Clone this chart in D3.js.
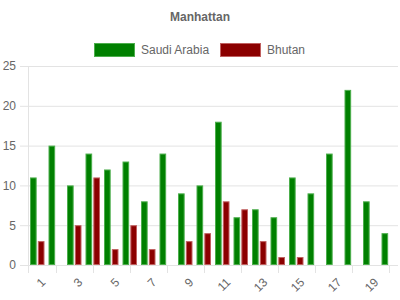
<!DOCTYPE html>
<html>
<head>
<meta charset="utf-8">
<script src="https://cdn.jsdelivr.net/npm/d3@7"></script>
<style>
  body { margin: 0; background: #fff; }
  svg { display: block; font-family: "Liberation Sans", Arial, sans-serif; }
</style>
</head>
<body>
<svg id="chart"></svg>
<script>
// Chart data
const categories = d3.range(1, 21).map(String);
const saudiArabia = [11, 15, 10, 14, 12, 13, 8, 14, 9, 10, 18, 6, 7, 6, 11, 9, 14, 22, 8, 4];
const bhutan = [3, 0, 5, 11, 2, 5, 2, 0, 3, 4, 8, 7, 3, 1, 1, 0, 0, 0, 0, 0];
const yTicks = [0, 5, 10, 15, 20, 25];

const seriesNames = ["Saudi Arabia", "Bhutan"];
const fills = ["#008000", "#8b0000"];
const strokes = ["#4cae4c", "#c06060"];

const width = 400, height = 300;
const margin = { top: 66, right: 2, bottom: 35, left: 28 };
const innerW = width - margin.left - margin.right;
const innerH = height - margin.top - margin.bottom;

const svg = d3.select("#chart").attr("width", width).attr("height", height);

// title
svg.append("text")
  .attr("x", width / 2).attr("y", 21)
  .attr("text-anchor", "middle")
  .attr("font-size", 12).attr("font-weight", "bold")
  .attr("fill", "#666")
  .text("Manhattan");

// legend
const legendItems = [
  { x: 94, name: seriesNames[0] },
  { x: 220, name: seriesNames[1] }
];
legendItems.forEach((d, i) => {
  svg.append("rect")
    .attr("x", d.x + 0.5).attr("y", 43.5)
    .attr("width", 40).attr("height", 13)
    .attr("fill", fills[i]).attr("stroke", strokes[i]);
  svg.append("text")
    .attr("x", d.x + 47).attr("y", 54)
    .attr("font-size", 12).attr("fill", "#666")
    .text(d.name);
});

const chart = svg.append("g")
  .attr("transform", `translate(${margin.left},${margin.top})`);

const x0 = d3.scaleBand().domain(categories).range([0, innerW]).paddingInner(0).paddingOuter(0);
const x1 = d3.scaleBand().domain([0, 1]).range([2, x0.bandwidth() - 2]).paddingInner(0.15);
const y = d3.scaleLinear().domain([0, 25]).range([innerH, 0]);

// horizontal grid + y labels
const yAxis = d3.axisLeft(y).tickValues(yTicks).tickSize(-innerW - 8).tickPadding(4);
const yG = chart.append("g").call(yAxis);
yG.select(".domain").remove();
yG.selectAll(".tick line")
  .attr("x1", -8).attr("x2", innerW)
  .attr("stroke", "#e3e3e3");
yG.selectAll(".tick text")
  .attr("x", -12)
  .attr("font-size", 12).attr("fill", "#666")
  .attr("font-family", "Liberation Sans, Arial, sans-serif");

// y axis line
chart.append("line")
  .attr("x1", 0.5).attr("x2", 0.5)
  .attr("y1", 0).attr("y2", innerH + 8)
  .attr("stroke", "#e3e3e3");

// x ticks at centre of even categories
chart.selectAll(".xtick")
  .data(categories.filter((d, i) => i % 2 === 1))
  .join("line")
  .attr("class", "xtick")
  .attr("x1", d => Math.round(x0(d) + x0.bandwidth() / 2) + 0.5)
  .attr("x2", d => Math.round(x0(d) + x0.bandwidth() / 2) + 0.5)
  .attr("y1", innerH).attr("y2", innerH + 8)
  .attr("stroke", "#e3e3e3");

// x labels, odd categories, rotated
chart.selectAll(".xlabel")
  .data(categories.filter((d, i) => i % 2 === 0))
  .join("text")
  .attr("class", "xlabel")
  .attr("transform", d => `translate(${x0(d) + x0.bandwidth() / 2 + 9},${innerH + 18}) rotate(-45)`)
  .attr("text-anchor", "end")
  .attr("font-size", 12).attr("fill", "#666")
  .text(d => d);

// bars
const series = [saudiArabia, bhutan];
series.forEach((vals, s) => {
  chart.selectAll(".bar-" + s)
    .data(categories.map((c, i) => ({ c, v: vals[i] })).filter(d => d.v > 0))
    .join("rect")
    .attr("class", "bar-" + s)
    .attr("x", d => x0(d.c) + x1(s) + 0.5)
    .attr("y", d => y(d.v) + 0.5)
    .attr("width", x1.bandwidth() - 1)
    .attr("height", d => innerH - y(d.v) - 1)
    .attr("fill", fills[s])
    .attr("stroke", strokes[s]);
});
</script>
</body>
</html>
